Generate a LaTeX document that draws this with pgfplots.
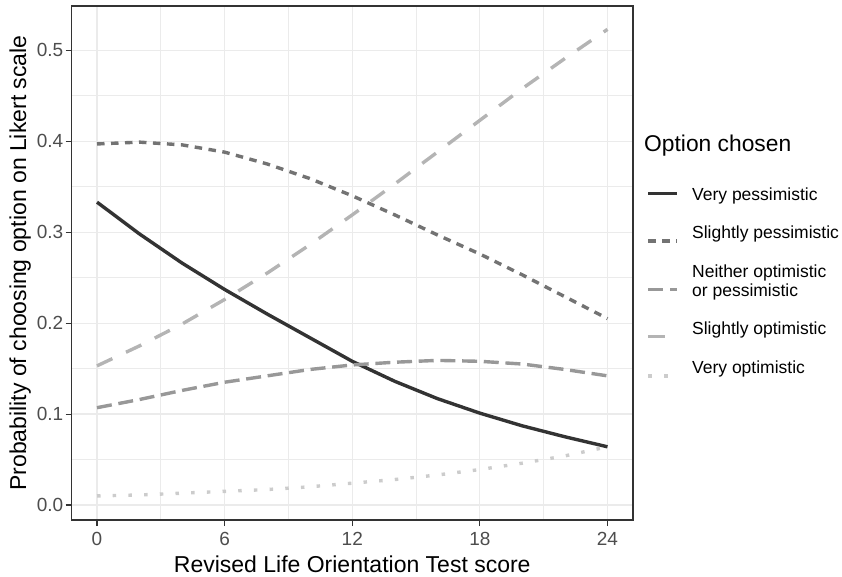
\documentclass[border=0pt]{standalone}
\usepackage{fontspec}
\setmainfont{Liberation Sans}
\usepackage{pgfplots}
\pgfplotsset{compat=1.18}
\definecolor{cA}{HTML}{333333}
\definecolor{cB}{HTML}{737373}
\definecolor{cC}{HTML}{989898}
\definecolor{cD}{HTML}{B4B4B4}
\definecolor{cE}{HTML}{CCCCCC}
\definecolor{gridc}{HTML}{EBEBEB}
\definecolor{tickc}{HTML}{4D4D4D}
\newcommand\st[2]{\rule[-#2]{0pt}{\dimexpr#1+#2\relax}}
\pgfplotsset{lkey/.style={legend image code/.code={\draw[##1] (0pt,#1) -- (28.5pt,#1);}}}
\begin{document}
\begin{tikzpicture}
\useasboundingbox (0,0) rectangle (842pt,576pt);
\begin{axis}[
  at={(71.5pt,56pt)}, anchor=south west,
  scale only axis, width=561.5pt, height=514pt,
  xmin=-1.2, xmax=25.2, ymin=-0.0165, ymax=0.5487,
  xtick={0,6,12,18,24}, ytick={0,0.1,0.2,0.3,0.4,0.5},
  minor xtick={3,9,15,21}, minor ytick={0.05,0.15,0.25,0.35,0.45},
  grid=both,
  major grid style={color=gridc, line width=1.2pt},
  minor grid style={color=gridc, line width=0.7pt},
  tick align=outside, major tick length=6pt, minor tick length=0pt,
  xtick pos=bottom, ytick pos=left,
  tick style={color=cA, line width=1.1pt},
  axis line style={color=cA, line width=1.1pt},
  /pgf/number format/assume math mode=true,
  ticklabel style={font=\fontsize{19}{21}\selectfont, text=tickc, inner sep=0pt},
  xticklabel style={yshift=-6pt},
  yticklabel style={xshift=-2pt, /pgf/number format/.cd, fixed, fixed zerofill, precision=1},
  xlabel={Revised Life Orientation Test score},
  ylabel={Probability of choosing option on Likert scale},
  label style={font=\fontsize{23}{26}\selectfont, inner sep=0pt},
  xlabel style={at={(axis description cs:0.5,-0.1025)}, anchor=base},
  ylabel style={at={(axis description cs:-0.081,0.5)}, anchor=base},
  legend style={at={(axis description cs:1.02444,0.6469)}, anchor=north west,
    draw=none, fill=none, inner sep=0pt, outer sep=0pt,
    row sep=0pt, column sep=13.5pt,
    font=\fontsize{17.5}{19.2}\selectfont,
    nodes={inner sep=0pt, outer sep=0pt, text depth={}, text height={}},
    cells={anchor=base west}},
]
\addplot[cA, line width=3.4pt, lkey=7.2pt]
  table {
x y
0 0.333
2 0.298
4 0.266
6 0.237
8 0.210
10 0.184
12 0.158
14 0.136
16 0.117
18 0.101
20 0.087
22 0.075
24 0.064
};
\addlegendentry{\st{13pt}{18.3pt}Very pessimistic}
\addplot[cB, line width=3.4pt, dash pattern=on 7.5pt off 6.5pt, lkey=-2.2pt]
  table {
x y
0 0.397
2 0.399
4 0.396
6 0.388
8 0.375
10 0.359
12 0.340
14 0.319
16 0.297
18 0.276
20 0.253
22 0.229
24 0.205
};
\addlegendentry{\st{20pt}{19pt}Slightly pessimistic}
\addlegendimage{empty legend}
\addlegendentry{\st{20pt}{6.2pt}Neither optimistic}
\addplot[cC, line width=3.4pt, dash pattern=on 15pt off 6.7pt, lkey=7.7pt]
  table {
x y
0 0.107
2 0.116
4 0.126
6 0.135
8 0.142
10 0.149
12 0.154
14 0.157
16 0.159
18 0.158
20 0.155
22 0.149
24 0.142
};
\addlegendentry{\st{13pt}{17.7pt}or pessimistic}
\addplot[cD, line width=3.4pt, dash pattern=on 17pt off 15pt, lkey=-2pt]
  table {
x y
0 0.153
2 0.175
4 0.199
6 0.226
8 0.255
10 0.286
12 0.319
14 0.353
16 0.388
18 0.423
20 0.458
22 0.491
24 0.523
};
\addlegendentry{\st{20pt}{18.6pt}Slightly optimistic}
\addplot[cE, line width=3.4pt, dash pattern=on 3.5pt off 12.2pt, lkey=-2.7pt]
  table {
x y
0 0.010
2 0.011
4 0.013
6 0.015
8 0.017
10 0.020
12 0.024
14 0.028
16 0.033
18 0.039
20 0.046
22 0.054
24 0.064
};
\addlegendentry{\st{20pt}{5pt}Very optimistic}
\end{axis}
\node[anchor=base west, inner sep=0pt, font=\fontsize{22.8}{26}\selectfont] at (644pt,424.3pt) {Option chosen};
\end{tikzpicture}
\end{document}
